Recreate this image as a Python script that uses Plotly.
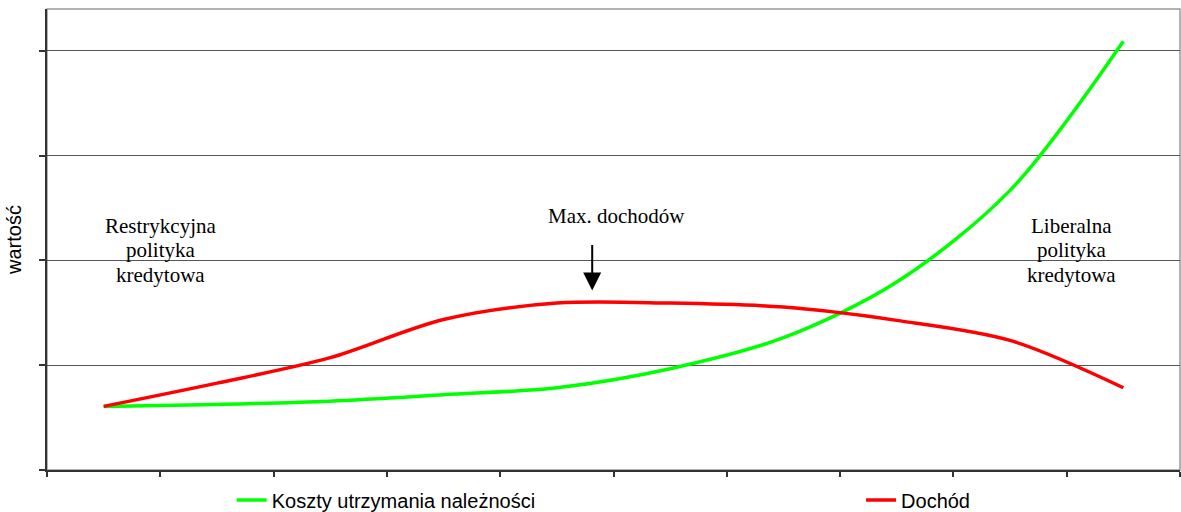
import plotly.graph_objects as go

# Credit policy scale: 10 steps from restrictive to liberal
steps = list(range(10))
koszty = [0.607, 0.626, 0.657, 0.718, 0.785, 0.967, 1.263, 1.794, 2.669, 4.093]
dochod = [0.607, 0.829, 1.072, 1.437, 1.593, 1.593, 1.555, 1.428, 1.237, 0.785]

names = ["Koszty utrzymania należności", "Dochód"]
colors = ["#00ff00", "#ff0000"]

fig = go.Figure()
fig.add_trace(go.Scatter(
    x=steps, y=koszty, mode="lines", name=names[0],
    line=dict(color=colors[0], width=3.5, shape="spline", smoothing=0.9),
    legend="legend",
))
fig.add_trace(go.Scatter(
    x=steps, y=dochod, mode="lines", name=names[1],
    line=dict(color=colors[1], width=3.5, shape="spline", smoothing=0.9),
    legend="legend2",
))

serif = dict(family="Liberation Serif, Times New Roman, serif", size=21, color="#000")

# Side labels, one annotation per line
left_lines = ["Restrykcyjna", "polityka", "kredytowa"]
right_lines = ["Liberalna", "polityka", "kredytowa"]
line_y = [2.326, 2.096, 1.858]
for txt, yy in zip(left_lines, line_y):
    fig.add_annotation(x=0.503, y=yy, text=txt, showarrow=False, font=serif,
                       xanchor="center", yanchor="middle")
for txt, yy in zip(right_lines, line_y):
    fig.add_annotation(x=8.546, y=yy, text=txt, showarrow=False, font=serif,
                       xanchor="center", yanchor="middle")

fig.add_annotation(x=4.524, y=2.421, text="Max. dochodów", showarrow=False,
                   font=serif, xanchor="center", yanchor="middle")
# Arrow pointing at the income peak
fig.add_annotation(x=4.312, y=1.714, text="", showarrow=True,
                   ax=0, ay=-47, arrowhead=2, arrowsize=1.8, arrowwidth=2,
                   arrowcolor="#000")

# Light frame around the plot area
fig.add_shape(type="rect", xref="paper", yref="paper", x0=0, y0=0, x1=1, y1=1,
              line=dict(color="#9a9a9a", width=1.5), layer="below")

fig.update_layout(
    width=1181, height=512,
    margin=dict(l=47, r=1, t=9, b=42, autoexpand=False),
    plot_bgcolor="#ffffff", paper_bgcolor="#ffffff",
    font=dict(family="Liberation Sans, Arial, sans-serif", size=20, color="#000"),
    xaxis=dict(
        range=[-0.5, 9.5], tickmode="array",
        tickvals=[i - 0.5 for i in range(11)],
        showticklabels=False, ticks="outside", ticklen=5, tickwidth=1.5,
        tickcolor="#333", showgrid=False, zeroline=False,
        showline=True, linecolor="#333", linewidth=2,
    ),
    yaxis=dict(
        range=[0, 4.4], tickmode="array", tickvals=[0, 1, 2, 3, 4],
        showticklabels=False, ticks="outside", ticklen=6, tickwidth=1.5,
        tickcolor="#333", showgrid=True, gridcolor="#555555", gridwidth=1.2,
        zeroline=False, showline=True, linecolor="#333", linewidth=2,
        title=dict(text="wartość", standoff=12,
                   font=dict(family="Liberation Sans, Arial, sans-serif", size=20)),
        automargin=False,
    ),
    legend=dict(orientation="h", x=0.163, xanchor="left",
                yref="container", y=0.0234, yanchor="middle",
                bgcolor="rgba(0,0,0,0)", font=dict(size=20)),
    legend2=dict(orientation="h", x=0.7185, xanchor="left",
                 yref="container", y=0.0234, yanchor="middle",
                 bgcolor="rgba(0,0,0,0)", font=dict(size=20)),
    showlegend=True,
)

fig.write_html("out.html")
